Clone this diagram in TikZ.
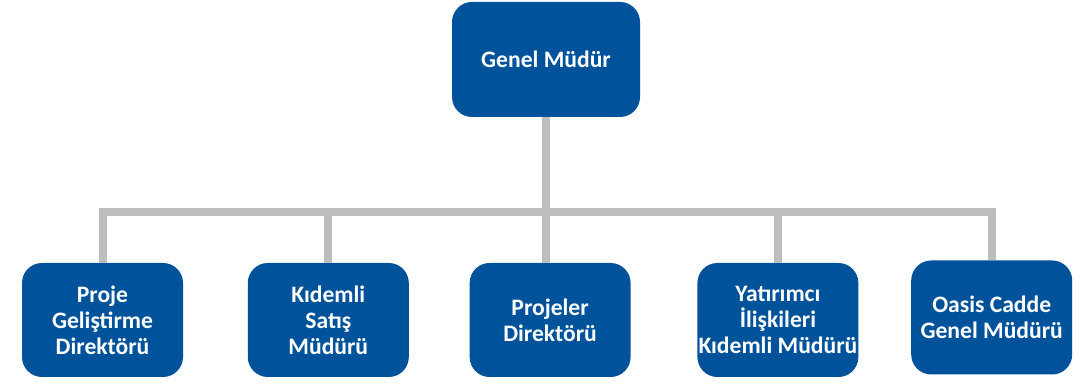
\documentclass[tikz,border=0pt]{standalone}
\usepackage{fontspec}
\setmainfont{Carlito}
\usepackage{tikz}
\usetikzlibrary{positioning}
\definecolor{OrgBlue}{RGB}{0,82,155}
\definecolor{LinkGray}{RGB}{188,190,192}
\tikzset{
  block/.style   = {draw=none, fill=OrgBlue, rounded corners=10pt, minimum width=80.5pt,
                    minimum height=57pt, align=center, text=white, inner xsep=0pt, inner ysep=1pt,
                    font=\bfseries\fontsize{11.8}{13}\selectfont},
  gmblock/.style = {block, minimum width=94pt, minimum height=57.5pt},
  link/.style    = {LinkGray, line width=4pt}
}

\begin{document}
\begin{tikzpicture}[x=0.5pt, y=-0.5pt]
\useasboundingbox (0,0) rectangle (1087,383);
\node[gmblock] (gm) at (546,59.5) {Genel Müdür};
\node[block] (b1) at (102.5,320) {Proje\\Geliştirme\\Direktörü};
\node[block, right=32pt of b1] (b2) {Kıdemli\\Satış\\Müdürü};
\node[block, right=30pt of b2] (b3) {Projeler\\Direktörü};
\node[block, right=33pt of b3] (b4) {Yatırımcı\\İlişkileri\\Kıdemli Müdürü};
\node[block, right=26pt of b4, yshift=1.25pt] (b5) {Oasis Cadde\\Genel Müdürü};
\coordinate (bar) at (0,212);
\draw[link] (b1.north) |- (b5.north |- bar) -- (b5.north);
\draw[link] (gm.south) -- (gm.south |- b3.north);
\draw[link] (b2.north) -- (b2.north |- bar);
\draw[link] (b4.north) -- (b4.north |- bar);
\end{tikzpicture}
\end{document}
